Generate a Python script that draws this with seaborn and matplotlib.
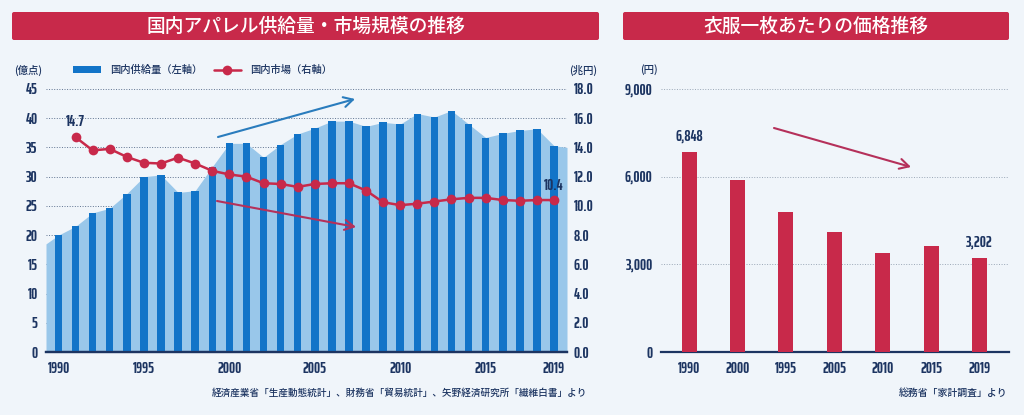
import matplotlib
matplotlib.use("Agg")
import logging
import matplotlib.pyplot as plt
from matplotlib.lines import Line2D
from matplotlib.patches import FancyBboxPatch, Patch
import seaborn as sns

logging.getLogger("matplotlib.font_manager").setLevel(logging.ERROR)
sns.set_theme(style="white")
JP = ["Noto Sans CJK JP", "DejaVu Sans"]
NUM = ["Saira ExtraCondensed", "Roboto", "DejaVu Sans"]
plt.rcParams["font.family"] = JP

BG = "#f0f5fa"
NAVY = "#1c3461"
RED = "#c8294a"
BLUE = "#1274c8"
LIGHT = "#99c7ea"
ARROW_BLUE = "#2a7cbd"
ARROW_RED = "#b5305a"
W, H = 1024, 415

years = list(range(1990, 2020))
supply = [20.0, 21.5, 23.8, 24.6, 27.1, 30.0, 30.3, 27.3, 27.6, 31.7,
          35.7, 35.7, 33.3, 35.5, 37.3, 38.3, 39.5, 39.5, 38.6, 39.3,
          39.0, 40.8, 40.2, 41.3, 39.0, 36.7, 37.4, 37.9, 38.2, 35.3]
area_years = [1989.27] + years + [2019.76]
area_values = [18.5] + supply + [35.0]
market_years = list(range(1991, 2020))
market = [14.7, 13.8, 13.9, 13.35, 12.95, 12.9, 13.3, 12.9, 12.4, 12.15,
          12.0, 11.55, 11.5, 11.3, 11.5, 11.55, 11.55, 11.05, 10.25, 10.05,
          10.15, 10.3, 10.45, 10.55, 10.55, 10.4, 10.35, 10.4, 10.4]
left_ticks = [0, 5, 10, 15, 20, 25, 30, 35, 40, 45]
right_ticks = [0, 2, 4, 6, 8, 10, 12, 14, 16, 18]
year_ticks = [1990, 1995, 2000, 2005, 2010, 2015, 2019]

price_labels = ["1990", "2000", "1995", "2005", "2010", "2015", "2019"]
price = [6848, 5900, 4790, 4120, 3400, 3640, 3202]
price_ticks = [0, 3000, 6000, 9000]


def rect(x0, y0, x1, y1):
    # pixel box, y measured from the top of the picture
    return [x0 / W, 1 - y1 / H, (x1 - x0) / W, (y1 - y0) / H]


def fx(x):
    return x / W


def fy(y):
    return 1 - y / H


def style_axis(ax):
    sns.despine(ax=ax, left=True, right=True, top=True)
    ax.spines["bottom"].set_color(NAVY)
    ax.spines["bottom"].set_linewidth(1.6)
    ax.set_facecolor("none")
    ax.set_xlabel("")
    ax.set_ylabel("")


def num_ticks(ax, axis, pad):
    ax.tick_params(axis=axis, length=0, pad=pad, labelsize=11, labelcolor=NAVY)
    labels = ax.get_xticklabels() if axis == "x" else ax.get_yticklabels()
    for lab in labels:
        lab.set_family(NUM)
        lab.set_fontweight("bold")


def header(fig, x0, x1, title):
    fig.add_artist(FancyBboxPatch((x0, H - 40), x1 - x0, 28, boxstyle="round,pad=0,rounding_size=2",
                                  transform=None, fc=RED, ec="none"))
    fig.text(fx((x0 + x1) / 2), fy(26), title, color="white", fontsize=13.5, fontweight="medium",
             ha="center", va="center")


def arrow(fig, start, end, color):
    fig.add_artist(plt.Annotation("", xy=(fx(end[0]), fy(end[1])), xytext=(fx(start[0]), fy(start[1])),
                                  xycoords="figure fraction", textcoords="figure fraction",
                                  arrowprops=dict(arrowstyle="->,head_length=0.55,head_width=0.3",
                                                  color=color, lw=1.5, shrinkA=0, shrinkB=0)))


def value_text(fig, x, y, s):
    fig.text(fx(x), fy(y), s, color=NAVY, fontsize=11, fontweight="bold", family=NUM,
             ha="center", va="center")


def note(fig, x, y, s, ha="center", size=6.9):
    fig.text(fx(x), fy(y), s, color=NAVY, fontsize=size, fontweight="medium", ha=ha, va="center")


fig = plt.figure(figsize=(W / 100, H / 100), dpi=100, facecolor=BG)
header(fig, 12, 599, "国内アパレル供給量・市場規模の推移")
header(fig, 623, 1009, "衣服一枚あたりの価格推移")

# left chart
ax = fig.add_axes(rect(46, 89, 567, 352))
ax.fill_between(area_years, area_values, 0, color=LIGHT, lw=0, zorder=1)
sns.barplot(x=years, y=supply, ax=ax, native_scale=True, width=0.44, color=BLUE, saturation=1,
            errorbar=None, linewidth=0, zorder=3)
ax.set_xlim(1989.27, 2019.76)
ax.set_ylim(0, 45)
ax.set_xticks(year_ticks, [str(y) for y in year_ticks])
ax.set_yticks(left_ticks, [str(v) for v in left_ticks])
ax.grid(axis="y", ls=":", lw=0.7, color="#5f7390", zorder=2)
ax.grid(axis="x", visible=False)
style_axis(ax)
num_ticks(ax, "x", 7)
num_ticks(ax, "y", 6)

ax2 = ax.twinx()
sns.lineplot(x=market_years, y=market, ax=ax2, color=RED, lw=1.8, marker="o", markersize=7,
             markeredgecolor="none", errorbar=None)
ax2.set_ylim(0, 18)
ax2.set_yticks(right_ticks, [f"{v:.1f}" for v in right_ticks])
ax2.grid(False)
style_axis(ax2)
num_ticks(ax2, "y", 5)

fig.legend(handles=[Patch(fc=BLUE, ec="none", label="国内供給量（左軸）"),
                    Line2D([], [], color=RED, lw=1.8, marker="o", markersize=7, markeredgecolor="none",
                           label="国内市場（右軸）")],
           loc="center left", bbox_to_anchor=(fx(73), fy(70)), ncol=2, frameon=False,
           prop=dict(family=JP, size=7.4, weight="medium"),
           labelcolor=NAVY, handlelength=2.7, handleheight=0.6, handletextpad=0.9, columnspacing=1.1,
           borderpad=0, borderaxespad=0)

note(fig, 28, 70, "(億点)", size=7.5)
note(fig, 583, 70, "(兆円)", size=7.5)
value_text(fig, 75, 122, "14.7")
value_text(fig, 554, 186, "10.4")
arrow(fig, (218, 137), (355, 99), ARROW_BLUE)
arrow(fig, (217, 201), (356, 227), ARROW_RED)
note(fig, 587, 393, "経済産業省「生産動態統計」、財務省「貿易統計」、矢野経済研究所「繊維白書」より", ha="right")

# right chart
ax3 = fig.add_axes(rect(661, 89, 1009, 352))
sns.barplot(x=price_labels, y=price, ax=ax3, width=0.31, color=RED, saturation=1, errorbar=None,
            linewidth=0, zorder=3)
ax3.set_xlim(-0.58, 6.61)
ax3.set_ylim(0, 9000)
ax3.set_yticks(price_ticks, [f"{v:,}" for v in price_ticks])
ax3.grid(axis="y", ls=":", lw=0.7, color="#9aa7b6", zorder=2)
ax3.grid(axis="x", visible=False)
style_axis(ax3)
num_ticks(ax3, "x", 7)
num_ticks(ax3, "y", 6)

note(fig, 649, 70, "(円)", size=7.5)
value_text(fig, 689, 137, "6,848")
value_text(fig, 979, 243, "3,202")
arrow(fig, (774, 128), (911, 167), ARROW_RED)
note(fig, 1007, 393, "総務省「家計調査」より", ha="right", size=7.1)

fig.savefig("out.png", dpi=100, facecolor=BG)
